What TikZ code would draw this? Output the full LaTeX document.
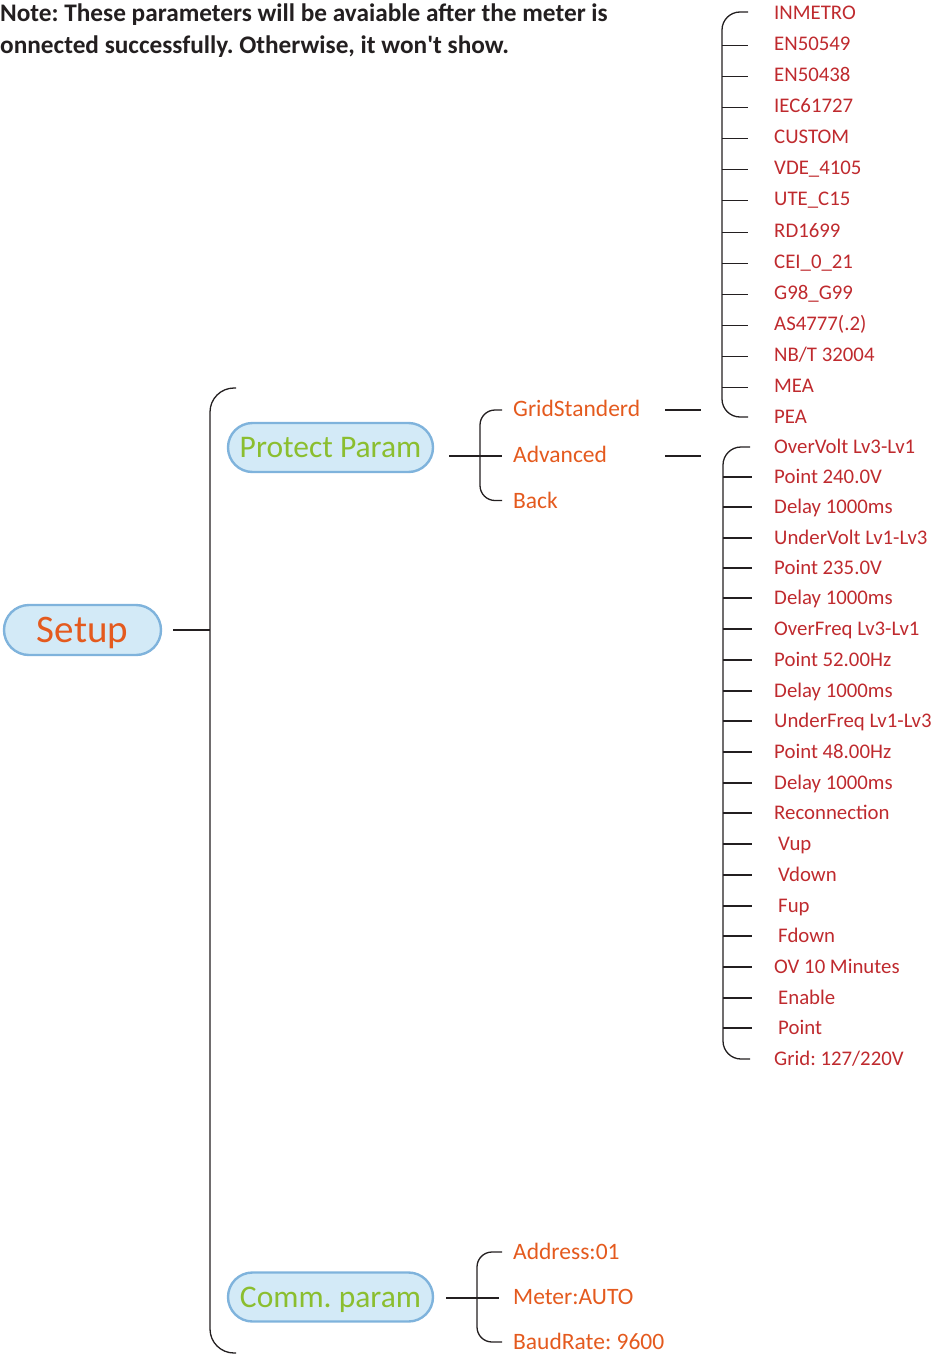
\documentclass[tikz,border=0pt]{standalone}
\usepackage{fontspec}
\setmainfont{Carlito}
\frenchspacing
\usetikzlibrary{calc,shapes.misc}
\definecolor{inkline}{HTML}{231F20}
\definecolor{pillfill}{HTML}{D3EAF7}
\definecolor{pillblue}{HTML}{7FB3DC}
\definecolor{setorange}{HTML}{E45A1E}
\definecolor{paramgreen}{HTML}{8BBE2F}
\definecolor{subred}{HTML}{BF2A2E}

\begin{document}
\begin{tikzpicture}[
    x=1pt, y=-1pt,
    tree/.style={draw=inkline, line width=1.3pt},
    pill/.style={rounded rectangle, draw=pillblue, fill=pillfill, line width=2.4pt,
                 inner sep=0pt, minimum width=205, minimum height=49, text depth=0pt},
    rootlbl/.style={text=setorange, font=\fontsize{39}{39}\selectfont, text height=25pt},
    parlbl/.style={text=paramgreen, font=\fontsize{31.5}{32}\selectfont, text height=20pt},
    sub/.style={anchor=west, inner sep=0pt, text height=15pt, text depth=0pt,
                text=setorange, font=\fontsize{23.5}{28}\selectfont},
    item/.style={anchor=west, inner sep=0pt, text height=13.4pt, text depth=0pt,
                 text=subred, font=\fontsize{20.8}{25}\selectfont},
    note/.style={anchor=west, inner sep=0pt, text height=16pt, text depth=0pt,
                 text=inkline, font=\fontsize{25.3}{30}\selectfont\bfseries},
  ]
  \useasboundingbox (0,0) rectangle (943,1354);

  % Note at the top.
  \node[note] (note1) at (0,14) {Note: These parameters will be avaiable after the meter is};
  \node[note] (note2) at (0,45) {onnected successfully. Otherwise, it won\textquotesingle t show.};

  % Root and first level.
  \node[pill, rootlbl, minimum width=157, minimum height=50] (setup) at (82.5,630) {Setup};
  \node[pill, parlbl] (prot) at (330.5,447.5) {Protect Param};
  \node[pill, parlbl] (comm) at (330.5,1297) {Comm. param};

  \coordinate (mtop) at (236,388);
  \coordinate (mbot) at (236,1353);
  \coordinate (spineM) at (210,630);
  \draw[tree, rounded corners=24pt] (mtop) -| (spineM) |- (mbot);
  \draw[tree] ($(setup.east)+(11,0)$) -- (spineM);

  % Protect Param branch.
  \node[sub] (grid) at (513,409) {GridStanderd};
  \node[sub] (adv)  at (513,455) {Advanced};
  \node[sub] (back) at (513,500.5) {Back};

  \coordinate (spineP) at (480,455);
  \draw[tree, rounded corners=15pt] ($(grid.west)+(-11,1)$) -| (spineP |- back)
    -- ($(back.west)+(-11,0)$);
  \draw[tree] ($(prot.east |- adv)+(15,1)$) -- ($(adv.west)+(-11,1)$);

  \draw[tree] ($(grid.east)+(25,1)$) -- ++(36,0);
  \draw[tree] ($(grid.east |- adv)+(25,1)$) -- ++(36,0);

  % Grid standards.
  \node[item] (s1)  at (774,13)  {INMETRO};
  \node[item] (s2)  at (774,44)  {EN50549};
  \node[item] (s3)  at (774,75)  {EN50438};
  \node[item] (s4)  at (774,106) {IEC61727};
  \node[item] (s5)  at (774,137) {CUSTOM};
  \node[item] (s6)  at (774,168) {VDE\_4105};
  \node[item] (s7)  at (774,199) {UTE\_C15};
  \node[item] (s8)  at (774,231) {RD1699};
  \node[item] (s9)  at (774,262) {CEI\_0\_21};
  \node[item] (s10) at (774,293) {G98\_G99};
  \node[item] (s11) at (774,324) {AS4777(.2)};
  \node[item] (s12) at (774,355) {NB/T 32004};
  \node[item] (s13) at (774,386) {MEA};
  \node[item] (s14) at (774,417) {PEA};

  \coordinate (spineA) at (722,0);
  \draw[tree, rounded corners=18pt] ($(s1.west)+(-26,-1)$) -| (spineA |- s14)
    -- ($(s14.west)+(-26,0)$);
  \foreach \n in {2,...,13}
    \draw[tree] ($(spineA |- s\n)+(0,1.5)$) -- ++(26,0);

  % Advanced settings.
  \node[item] (a1)  at (774,447)  {OverVolt Lv3-Lv1};
  \node[item] (a2)  at (774,477)  {Point 240.0V};
  \node[item] (a3)  at (774,507)  {Delay 1000ms};
  \node[item] (a4)  at (774,538)  {UnderVolt Lv1-Lv3};
  \node[item] (a5)  at (774,568)  {Point 235.0V};
  \node[item] (a6)  at (774,598)  {Delay 1000ms};
  \node[item] (a7)  at (774,629)  {OverFreq Lv3-Lv1};
  \node[item] (a8)  at (774,660)  {Point 52.00Hz};
  \node[item] (a9)  at (774,691)  {Delay 1000ms};
  \node[item] (a10) at (774,721)  {UnderFreq Lv1-Lv3};
  \node[item] (a11) at (774,752)  {Point 48.00Hz};
  \node[item] (a12) at (774,783)  {Delay 1000ms};
  \node[item] (a13) at (774,813)  {Reconnection};
  \node[item] (a14) at (778,844)  {Vup};
  \node[item] (a15) at (778,875)  {Vdown};
  \node[item] (a16) at (778,906)  {Fup};
  \node[item] (a17) at (778,936)  {Fdown};
  \node[item] (a18) at (774,967)  {OV 10 Minutes};
  \node[item] (a19) at (778,998)  {Enable};
  \node[item] (a20) at (778,1028) {Point};
  \node[item] (a21) at (774,1059) {Grid: 127/220V};

  \coordinate (spineB) at (723,0);
  \draw[tree, rounded corners=18pt] ($(a1.west)+(-24,0)$) -| (spineB |- a21)
    -- ($(a21.west)+(-24,0)$);
  \foreach \n in {2,...,20}
    \draw[tree] (spineB |- a\n) -- ++(29,0);

  % Comm. param branch.
  \node[sub] (addr)  at (513,1252) {Address:01};
  \node[sub] (meter) at (513,1297) {Meter:AUTO};
  \node[sub] (baud)  at (513,1342) {BaudRate: 9600};

  \coordinate (spineC) at (477,1297);
  \draw[tree, rounded corners=15pt] ($(addr.west)+(-11,0)$) -| (spineC |- baud)
    -- ($(baud.west)+(-11,0)$);
  \draw[tree] ($(comm.east)+(12,1)$) -- ($(meter.west)+(-14,1)$);
\end{tikzpicture}
\end{document}
